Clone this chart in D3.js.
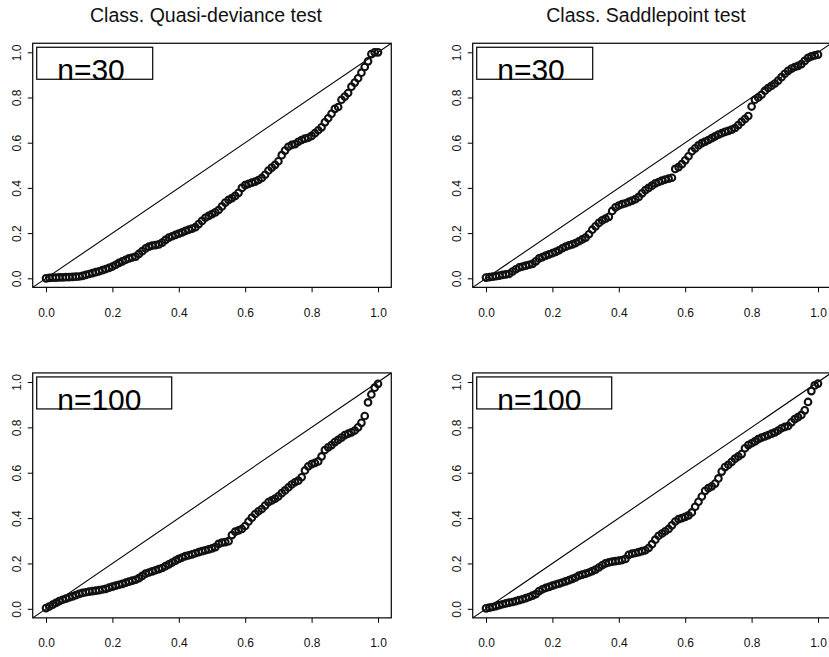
<!DOCTYPE html>
<html><head><meta charset="utf-8">
<script src="https://cdn.jsdelivr.net/npm/d3@7"></script>
<style>
html,body{margin:0;padding:0;background:#fff;}
svg{display:block;font-family:"Liberation Sans",Arial,Helvetica,sans-serif;}
</style></head>
<body>
<svg id="chart" width="829" height="657"></svg>
<script>
// ---- data ----
const quantiles = d3.range(0, 101).map(i => i / 100); // uniform plotting positions
const tickValues = [0, 0.2, 0.4, 0.6, 0.8, 1.0];
const tickLabels = ["0.0", "0.2", "0.4", "0.6", "0.8", "1.0"];
const titles = ["Class. Quasi-deviance test", "Class. Saddlepoint test"];
const sampleLabels = ["n=30", "n=100"];

const quasiN30 = [0.000,0.002,0.003,0.003,0.004,0.004,0.005,0.005,0.006,0.007,
0.008,0.011,0.015,0.019,0.023,0.027,0.031,0.036,0.041,0.046,
0.052,0.060,0.068,0.075,0.082,0.088,0.092,0.096,0.108,0.120,
0.132,0.140,0.145,0.147,0.150,0.158,0.170,0.180,0.186,0.192,
0.198,0.203,0.210,0.215,0.220,0.226,0.240,0.254,0.268,0.276,
0.284,0.292,0.302,0.318,0.335,0.347,0.355,0.365,0.378,0.400,
0.412,0.418,0.423,0.428,0.435,0.444,0.458,0.477,0.490,0.502,
0.518,0.545,0.565,0.582,0.590,0.594,0.604,0.612,0.618,0.622,
0.630,0.642,0.655,0.668,0.690,0.708,0.728,0.750,0.758,0.790,
0.804,0.820,0.848,0.866,0.885,0.910,0.935,0.960,0.992,1.000,1.000];

const saddleN30 = [0.003,0.005,0.007,0.009,0.012,0.015,0.017,0.020,0.030,0.040,
0.048,0.052,0.056,0.060,0.064,0.075,0.088,0.094,0.100,0.106,
0.111,0.117,0.124,0.133,0.140,0.146,0.150,0.156,0.164,0.172,
0.180,0.195,0.215,0.230,0.245,0.256,0.264,0.272,0.298,0.314,
0.322,0.328,0.332,0.338,0.344,0.350,0.360,0.376,0.390,0.400,
0.410,0.420,0.426,0.432,0.437,0.441,0.445,0.484,0.492,0.505,
0.522,0.540,0.562,0.575,0.588,0.598,0.605,0.612,0.620,0.628,
0.636,0.642,0.648,0.652,0.658,0.665,0.678,0.692,0.705,0.718,
0.760,0.790,0.800,0.812,0.830,0.842,0.852,0.862,0.875,0.890,
0.905,0.918,0.928,0.935,0.940,0.948,0.962,0.975,0.982,0.986,0.990];

const quasiN100 = [0.003,0.010,0.018,0.026,0.034,0.040,0.045,0.050,0.055,0.060,
0.066,0.070,0.073,0.076,0.078,0.080,0.082,0.085,0.088,0.093,
0.098,0.102,0.106,0.110,0.115,0.120,0.124,0.128,0.135,0.145,
0.155,0.160,0.165,0.170,0.175,0.180,0.188,0.196,0.204,0.212,
0.220,0.226,0.232,0.236,0.240,0.245,0.250,0.254,0.258,0.262,
0.266,0.272,0.286,0.292,0.294,0.298,0.325,0.340,0.346,0.352,
0.365,0.385,0.402,0.418,0.430,0.440,0.455,0.470,0.478,0.486,
0.496,0.510,0.522,0.535,0.548,0.558,0.565,0.580,0.610,0.628,
0.638,0.643,0.650,0.672,0.700,0.712,0.722,0.735,0.745,0.755,
0.766,0.772,0.778,0.786,0.800,0.820,0.850,0.910,0.945,0.975,0.992];

const saddleN100 = [0.002,0.005,0.008,0.012,0.016,0.020,0.024,0.027,0.030,0.034,
0.038,0.042,0.047,0.052,0.058,0.065,0.078,0.086,0.092,0.097,
0.102,0.107,0.111,0.116,0.121,0.126,0.132,0.138,0.146,0.151,
0.155,0.160,0.166,0.173,0.182,0.192,0.200,0.205,0.208,0.210,
0.212,0.215,0.220,0.238,0.243,0.246,0.250,0.254,0.258,0.268,
0.285,0.305,0.322,0.332,0.342,0.352,0.368,0.385,0.395,0.400,
0.405,0.412,0.425,0.450,0.472,0.495,0.520,0.532,0.540,0.552,
0.575,0.605,0.625,0.635,0.648,0.662,0.672,0.682,0.708,0.722,
0.730,0.738,0.748,0.755,0.760,0.766,0.772,0.778,0.786,0.796,
0.802,0.806,0.822,0.836,0.845,0.855,0.875,0.912,0.960,0.985,0.993];

// ---- layout ----
const svg = d3.select("#chart");
const cols = [{x0: 46, x1: 378}, {x0: 486, x1: 818}];
const rows = [{y0: 278.3, y1: 52.3}, {y0: 608.8, y1: 382.0}];
const panels = [
  {col: 0, row: 0, title: titles[0], label: sampleLabels[0], values: quasiN30},
  {col: 1, row: 0, title: titles[1], label: sampleLabels[0], values: saddleN30},
  {col: 0, row: 1, title: null, label: sampleLabels[1], values: quasiN100},
  {col: 1, row: 1, title: null, label: sampleLabels[1], values: saddleN100}
];

panels.forEach((p, idx) => {
  const c = cols[p.col], r = rows[p.row];
  const x = d3.scaleLinear().domain([0, 1]).range([c.x0, c.x1]);
  const y = d3.scaleLinear().domain([0, 1]).range([r.y0, r.y1]);
  const bl = x(-0.04), br = x(1.04), bt = y(1.04), bb = y(-0.04);
  const g = svg.append("g");

  const clipId = "clip" + idx;
  svg.append("clipPath").attr("id", clipId)
    .append("rect").attr("x", bl).attr("y", bt).attr("width", br - bl).attr("height", bb - bt);

  const inner = g.append("g").attr("clip-path", `url(#${clipId})`);
  // diagonal y = x
  inner.append("line")
    .attr("x1", x(-0.04)).attr("y1", y(-0.04))
    .attr("x2", x(1.04)).attr("y2", y(1.04))
    .attr("stroke", "#000").attr("stroke-width", 1.1);

  // points
  inner.selectAll("circle").data(quantiles.map((q, i) => [q, p.values[i]]))
    .join("circle")
    .attr("cx", d => x(d[0])).attr("cy", d => y(d[1]))
    .attr("r", 3.3).attr("fill", "none")
    .attr("stroke", "#111").attr("stroke-width", 2.1);

  // legend box
  const lw = p.label === "n=30" ? 116 : 135;
  inner.append("rect")
    .attr("x", bl + 4).attr("y", bt + 4).attr("width", lw).attr("height", 32)
    .attr("fill", "#fff").attr("stroke", "#000").attr("stroke-width", 1.2);
  inner.append("text")
    .attr("x", bl + 24.5).attr("y", bt + 36.8)
    .attr("font-size", 30).attr("fill", "#000")
    .text(p.label);

  // x axis
  const xa = d3.axisBottom(x).tickValues(tickValues)
    .tickFormat((d, i) => tickLabels[i]).tickSize(5).tickPadding(6);
  const gx = g.append("g").attr("transform", `translate(0,${bb})`).call(xa);
  gx.select(".domain").remove();
  gx.selectAll(".tick line").attr("stroke", "#000");
  gx.selectAll(".tick text").attr("font-size", 12).attr("fill", "#111")
    .attr("font-family", "Liberation Sans, Arial, sans-serif")
    .attr("y", 25).attr("dy", "0.35em");

  // y axis
  const ya = d3.axisLeft(y).tickValues(tickValues)
    .tickFormat((d, i) => tickLabels[i]).tickSize(5);
  const gy = g.append("g").attr("transform", `translate(${bl},0)`).call(ya);
  gy.select(".domain").remove();
  gy.selectAll(".tick line").attr("stroke", "#000");
  gy.selectAll(".tick text")
    .attr("font-size", 12).attr("fill", "#111")
    .attr("font-family", "Liberation Sans, Arial, sans-serif")
    .attr("x", null).attr("dy", null)
    .attr("text-anchor", "middle")
    .attr("transform", "translate(-16,0) rotate(-90)")
    .attr("y", 0).attr("dy", "0.35em");

  // frame
  g.append("rect").attr("x", bl).attr("y", bt).attr("width", br - bl).attr("height", bb - bt)
    .attr("fill", "none").attr("stroke", "#000").attr("stroke-width", 1.2);

  if (p.title) {
    g.append("text").attr("x", (c.x0 + c.x1) / 2 - 6).attr("y", 21.7)
      .attr("text-anchor", "middle").attr("font-size", 19.5).attr("fill", "#111")
      .text(p.title);
  }
});
</script>
</body></html>
